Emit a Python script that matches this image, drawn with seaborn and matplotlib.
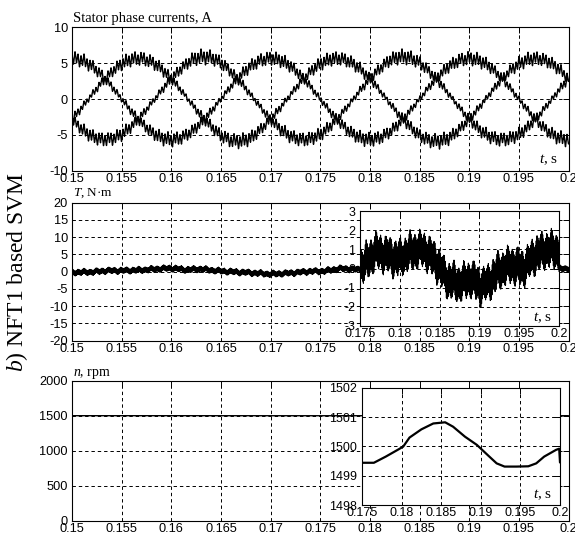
import numpy as np
import pandas as pd
import matplotlib
matplotlib.use("Agg")
import matplotlib.pyplot as plt
import seaborn as sns

sns.set_theme(style="white")
plt.rcParams.update({
    "font.family": ["Liberation Sans", "DejaVu Sans"],
    "mathtext.fontset": "custom",
    "mathtext.rm": "Liberation Serif",
    "mathtext.it": "Liberation Serif:italic",
    "text.color": "black",
    "axes.edgecolor": "black",
    "xtick.color": "black",
    "ytick.color": "black",
    "path.simplify": False,
    "agg.path.chunksize": 0,
})
SERIF = ["Liberation Serif", "DejaVu Serif"]

# ---------------- data ----------------
# stator phase currents (A), sampled every 1 ms from 0.150 s to 0.200 s
current_t = [round(0.150 + 0.001 * k, 3) for k in range(51)]
current_a = [5.7, 5.42, 4.61, 3.35, 1.76, 0.0, -1.76, -3.35, -4.61, -5.42,
             -5.7, -5.42, -4.61, -3.35, -1.76, 0.0, 1.76, 3.35, 4.61, 5.42,
             5.7, 5.42, 4.61, 3.35, 1.76, 0.0, -1.76, -3.35, -4.61, -5.42,
             -5.7, -5.42, -4.61, -3.35, -1.76, 0.0, 1.76, 3.35, 4.61, 5.42,
             5.7, 5.42, 4.61, 3.35, 1.76, 0.0, -1.76, -3.35, -4.61, -5.42, -5.7]
current_b = [-2.85, -1.19, 0.60, 2.32, 3.81, 4.94, 5.57, 5.67, 5.21, 4.24,
             2.85, 1.19, -0.60, -2.32, -3.81, -5.10, -5.80, -5.90, -5.45, -4.24,
             -2.85, -1.19, 0.60, 2.32, 3.81, 4.94, 5.57, 5.67, 5.21, 4.24,
             2.85, 1.19, -0.60, -2.32, -3.81, -5.10, -5.80, -5.90, -5.45, -4.24,
             -2.85, -1.19, 0.60, 2.32, 3.81, 4.94, 5.57, 5.67, 5.21, 4.24, 2.85]
current_c = [-2.85, -4.23, -5.21, -5.67, -5.57, -4.94, -3.81, -2.32, -0.60, 1.18,
             2.85, 4.23, 5.45, 5.90, 5.80, 5.10, 3.81, 2.32, 0.60, -1.18,
             -2.85, -4.23, -5.21, -5.67, -5.57, -4.94, -3.81, -2.32, -0.60, 1.18,
             2.85, 4.23, 5.45, 5.90, 5.80, 5.10, 3.81, 2.32, 0.60, -1.18,
             -2.85, -4.23, -5.21, -5.67, -5.57, -4.94, -3.81, -2.32, -0.60, 1.18, 2.85]
current_ripple_peak = 1.1   # PWM ripple at the current peaks, A
current_ripple_zero = 0.45  # PWM ripple near zero crossings, A

# electromagnetic torque (N·m): mean value through the switching ripple
torque_t = [0.150, 0.152, 0.1535, 0.155, 0.157, 0.159, 0.160, 0.1615, 0.163,
            0.1645, 0.166, 0.168, 0.170, 0.172, 0.174, 0.175, 0.1755, 0.177,
            0.1785, 0.1797, 0.1815, 0.183, 0.1845, 0.186, 0.1875, 0.189,
            0.190, 0.191, 0.1925, 0.194, 0.1955, 0.197, 0.1985, 0.200]
torque_mean = [-0.2, -0.1, 0.3, 0.3, 0.5, 0.9, 1.0, 0.6, 0.8,
               0.3, 0.0, -0.3, -0.7, -0.4, 0.1, 0.1, 0.2, 0.9,
               0.7, 0.5, 0.9, 1.0, 0.4, -0.6, -0.8, -0.5,
               -0.9, -0.8, -0.1, 0.2, 0.0, 0.7, 1.0, 0.9]
torque_ripple = 1.2  # N·m

# rotor speed (rpm)
speed_t = [0.150, 0.160, 0.170, 0.175, 0.1765, 0.178, 0.1795, 0.1802, 0.181,
           0.1825, 0.184, 0.1855, 0.1865, 0.188, 0.1895, 0.191, 0.192, 0.193,
           0.1945, 0.196, 0.197, 0.198, 0.1995, 0.1999, 0.200]
speed = [1500.0, 1500.0, 1499.6, 1499.44, 1499.44, 1499.65, 1499.88, 1499.99, 1500.3,
         1500.58, 1500.78, 1500.82, 1500.67, 1500.33, 1500.05, 1499.67, 1499.42, 1499.31,
         1499.31, 1499.32, 1499.42, 1499.65, 1499.88, 1499.92, 1499.45]

main_xticks = [0.15, 0.155, 0.16, 0.165, 0.17, 0.175, 0.18, 0.185, 0.19, 0.195, 0.2]
main_xlabels = ["0.15", "0.155", "0.16", "0.165", "0.17", "0.175",
                "0.18", "0.185", "0.19", "0.195", "0.2"]
zoom_xticks = [0.175, 0.18, 0.185, 0.19, 0.195, 0.2]
zoom_xlabels = ["0.175", "0.18", "0.185", "0.19", "0.195", "0.2"]
current_yticks = [-10, -5, 0, 5, 10]
torque_yticks = [-20, -15, -10, -5, 0, 5, 10, 15, 20]
torque_zoom_yticks = [-3, -2, -1, 0, 1, 2, 3]
speed_yticks = [0, 500, 1000, 1500, 2000]
speed_zoom_yticks = [1498, 1499, 1500, 1501, 1502]

# ---------------- dense traces ----------------
t = np.linspace(0.15, 0.2, 50001)


def tri(freq):
    x = t * freq
    return 2.0 * np.abs(2.0 * (x - np.floor(x + 0.5))) - 1.0


carrier_i = 0.7 * tri(3310.0) + 0.3 * tri(1187.0)
carrier_T = 0.6 * tri(9970.0) + 0.25 * tri(1630.0) + 0.15 * tri(731.0)


def current_trace(vals):
    base = np.interp(t, current_t, vals)
    amp = current_ripple_zero + (current_ripple_peak - current_ripple_zero) * np.abs(base) / 5.7
    return base + amp * carrier_i


cur = pd.DataFrame({"t": t,
                    "ia": current_trace(current_a),
                    "ib": current_trace(current_b),
                    "ic": current_trace(current_c)})
trq = pd.DataFrame({"t": t, "T": np.interp(t, torque_t, torque_mean) + torque_ripple * carrier_T})
spd = pd.DataFrame({"t": speed_t, "n": speed})

# ---------------- figure ----------------
W, H = 575, 538
fig = plt.figure(figsize=(W / 100, H / 100), dpi=100)
fig.patch.set_facecolor("white")


def box(l, r, top, bot):
    return [l / W, 1 - bot / H, (r - l) / W, (bot - top) / H]


GRID = dict(color="black", linestyle=(0, (3.5, 3)), linewidth=0.7)


def style(ax, xlim, ylim, xt, xl, yt, fs, ypad):
    ax.set_xlim(*xlim)
    ax.set_ylim(*ylim)
    ax.set_xticks(xt)
    ax.set_xticklabels(xl)
    ax.set_yticks(yt)
    ax.set_yticklabels([str(v) for v in yt])
    ax.set_xlabel("")
    ax.set_ylabel("")
    ax.set_facecolor("white")
    ax.tick_params(axis="both", direction="in", length=4, width=0.7,
                   top=True, right=True, labelsize=fs, colors="black")
    ax.tick_params(axis="x", pad=1.5)
    ax.tick_params(axis="y", pad=ypad)
    ax.grid(True, **GRID)
    ax.set_axisbelow(True)
    for s in ax.spines.values():
        s.set_visible(True)
        s.set_color("black")
        s.set_linewidth(0.8)


LINE = dict(color="black", estimator=None, sort=False, legend=False)

# currents
ax1 = fig.add_axes(box(72, 568.5, 27.3, 170.7))
for col in ["ia", "ib", "ic"]:
    sns.lineplot(data=cur, x="t", y=col, ax=ax1, linewidth=1.0, **LINE)
style(ax1, (0.15, 0.2), (-10, 10), main_xticks, main_xlabels, current_yticks, 9.2, 3)
ax1.text(0.979, 0.052, r"$t$, s", transform=ax1.transAxes, ha="right", va="baseline",
         family=SERIF, fontsize=11)

# torque
ax2 = fig.add_axes(box(72, 568.5, 202.7, 340.7))
sns.lineplot(data=trq, x="t", y="T", ax=ax2, linewidth=0.8, **LINE)
style(ax2, (0.15, 0.2), (-20, 20), main_xticks, main_xlabels, torque_yticks, 9.2, 3)

ax2i = fig.add_axes(box(360, 559, 211, 326))
sns.lineplot(data=trq, x="t", y="T", ax=ax2i, linewidth=0.8, **LINE)
style(ax2i, (0.175, 0.2), (-3, 3), zoom_xticks, zoom_xlabels, torque_zoom_yticks, 9, 3.5)
ax2i.text(0.965, 0.04, r"$t$, s", transform=ax2i.transAxes, ha="right", va="baseline",
          family=SERIF, fontsize=11)

# speed
ax3 = fig.add_axes(box(72, 568.5, 380.7, 520.7))
sns.lineplot(data=spd, x="t", y="n", ax=ax3, linewidth=1.0, **LINE)
style(ax3, (0.15, 0.2), (0, 2000), main_xticks, main_xlabels, speed_yticks, 9.2, 3)

ax3i = fig.add_axes(box(362, 560, 387.7, 505))
sns.lineplot(data=spd, x="t", y="n", ax=ax3i, linewidth=1.6, **LINE)
style(ax3i, (0.175, 0.2), (1498, 1502), zoom_xticks, zoom_xlabels, speed_zoom_yticks, 9, 3.5)
ax3i.text(0.96, 0.06, r"$t$, s", transform=ax3i.transAxes, ha="right", va="baseline",
          family=SERIF, fontsize=11)

# panel captions
fig.text(72.7 / W, 1 - 22 / H, "Stator phase currents, A", family=SERIF, fontsize=10.5,
         va="baseline", ha="left")
fig.text(72.7 / W, 1 - 196 / H, r"$T$, N·m", family=SERIF, fontsize=9.5,
         va="baseline", ha="left")
fig.text(72.7 / W, 1 - 376 / H, r"$n$, rpm", family=SERIF, fontsize=10,
         va="baseline", ha="left")
fig.text(17 / W, 1 - 272 / H, r"$b$) NFT1 based SVM", family=SERIF, fontsize=17,
         rotation=90, va="center", ha="center")

fig.savefig("out.png", dpi=100, facecolor="white")
